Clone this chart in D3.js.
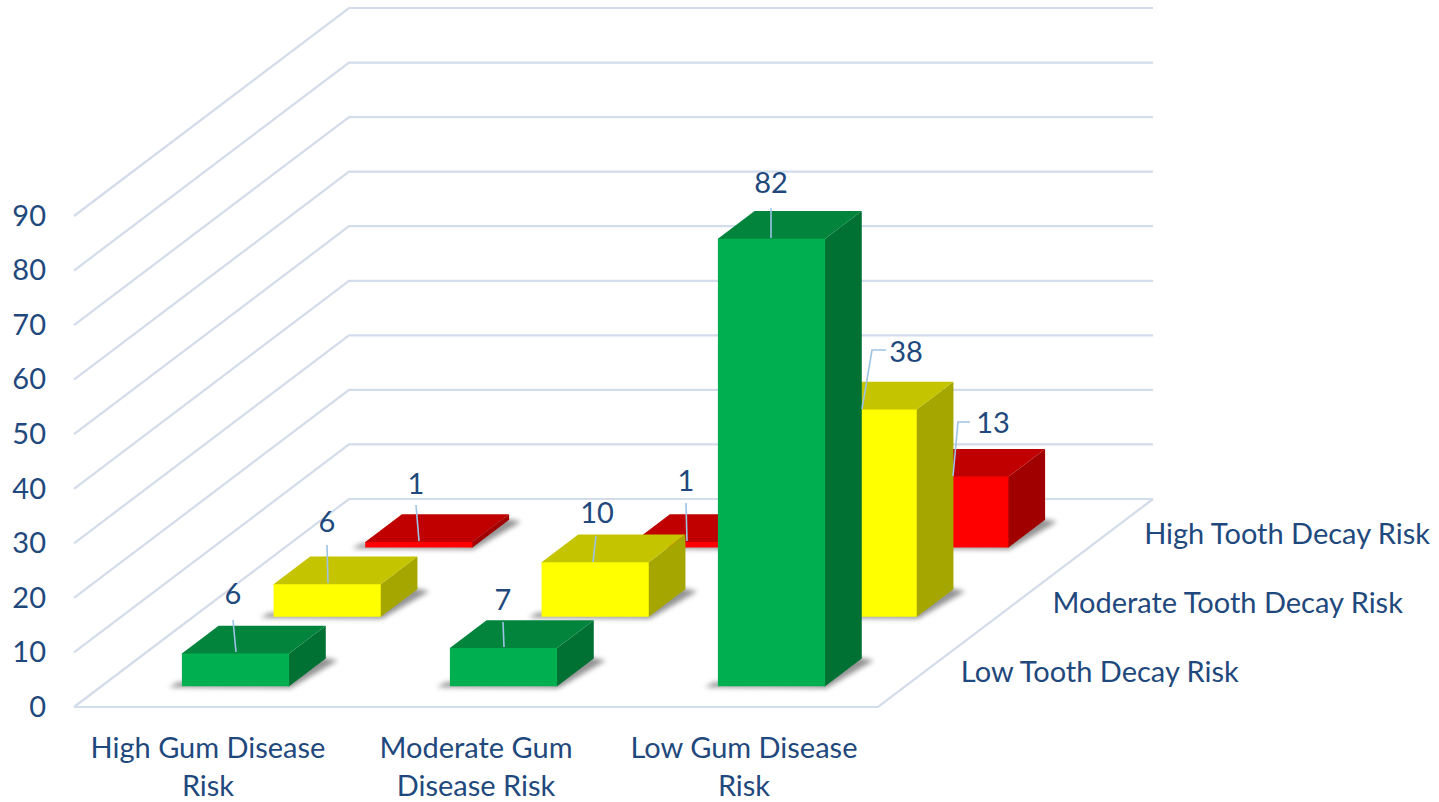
<!DOCTYPE html>
<html>
<head>
<meta charset="utf-8">
<script src="https://cdn.jsdelivr.net/npm/d3@7/dist/d3.min.js"></script>
<style>
  html, body { margin: 0; padding: 0; background: #fff; }
  svg { display: block; }
  text { font-family: Lato, "Open Sans", sans-serif; fill: #1f497d; }
</style>
</head>
<body>
<svg id="chart" width="1439" height="802"></svg>
<script>
// Survey counts: tooth decay risk (rows, front to back) against gum disease risk (columns)
const gumCategories = ["High Gum Disease Risk", "Moderate Gum Disease Risk", "Low Gum Disease Risk"];
const gumLabelLines = [["High Gum Disease", "Risk"], ["Moderate Gum", "Disease Risk"], ["Low Gum Disease", "Risk"]];
const decaySeries = ["Low Tooth Decay Risk", "Moderate Tooth Decay Risk", "High Tooth Decay Risk"];
const lowDecayValues = [6, 7, 82];
const moderateDecayValues = [6, 10, 38];
const highDecayValues = [1, 1, 13];
const valueTicks = [0, 10, 20, 30, 40, 50, 60, 70, 80, 90];

const seriesValues = [lowDecayValues, moderateDecayValues, highDecayValues];

// Face colours per row: front, top, side
const faceColours = [
  { front: "#00b050", top: "#02843d", side: "#007133" },
  { front: "#ffff00", top: "#c4c400", side: "#a6a600" },
  { front: "#ff0000", top: "#c00000", side: "#a00000" }
];

// Oblique projection of the floor: depth moves points up and to the right
const left = 74, right = 878, baseY = 707, depthLift = 208, depthRun = 275;
const run = lift => lift * depthRun / depthLift;
const fontSize = "29px";

const x = d3.scaleBand().domain(gumCategories).range([left, right]).paddingInner(0.6).paddingOuter(0.3);
const depth = d3.scaleBand().domain(decaySeries).range([0, depthLift]).paddingInner(0.6).paddingOuter(0.3);
const y = d3.scaleLinear().domain([0, 90]).range([baseY, 216]);

const svg = d3.select("#chart");
const defs = svg.append("defs");
defs.append("filter").attr("id", "soft").attr("x", "-20%").attr("y", "-40%").attr("width", "140%").attr("height", "180%")
  .append("feGaussianBlur").attr("stdDeviation", 2.8);

const gridColour = "#d3dcea";

// Walls: diagonal side gridlines and horizontal back gridlines for every tick
const grid = svg.append("g").attr("fill", "none").attr("stroke", gridColour).attr("stroke-width", 2.2);
grid.selectAll("path.wall").data(valueTicks).join("path").attr("class", "wall")
  .attr("d", v => d3.line()([
    [left, y(v)],
    [left + depthRun, y(v) - depthLift],
    [right + depthRun, y(v) - depthLift]
  ]));

// Front and right edges of the floor
grid.append("path").attr("d", d3.line()([
  [left, baseY], [right, baseY], [right + depthRun, baseY - depthLift]
]));

// Value axis: tick text only, the gridlines above carry the ticks
const yAxis = svg.append("g").attr("transform", "translate(46,0)")
  .call(d3.axisLeft(y).tickValues(valueTicks).tickSize(0).tickPadding(0));
yAxis.select(".domain").remove();
yAxis.selectAll("text").style("font-size", fontSize).style("font-family", "Lato").style("fill", "#1f497d").attr("dy", "0.32em");

// Gum disease category labels, two lines each
svg.append("g").selectAll("text").data(gumCategories).join("text")
  .attr("text-anchor", "middle")
  .style("font-size", fontSize)
  .attr("y", 757.5)
  .each(function (d, i) {
    d3.select(this).selectAll("tspan").data(gumLabelLines[i]).join("tspan")
      .attr("x", x(d) + x.bandwidth() / 2)
      .attr("dy", (t, j) => j ? 38.5 : 0)
      .text(t => t);
  });

// Tooth decay row labels, stepping along the floor's right edge
svg.append("g").selectAll("text").data(decaySeries).join("text")
  .style("font-size", fontSize)
  .attr("x", d => right + run(depth(d) + depth.bandwidth() / 2) + 37)
  .attr("y", d => baseY - depth(d) - depth.bandwidth() / 2 + 10)
  .text(d => d);

// Bars are painted back row first so nearer ones overlap them
const bars = [];
decaySeries.forEach((s, r) => gumCategories.forEach((c, k) => {
  bars.push({ s, c, r, k, value: seriesValues[r][k] });
}));
bars.sort((a, b) => b.r - a.r || a.k - b.k);

const barGroups = svg.append("g").selectAll("g").data(bars).join("g");

barGroups.each(function (d) {
  const g = d3.select(this);
  const lift = depth(d.s);
  const x0 = x(d.c) + run(lift);
  const x1 = x0 + x.bandwidth();
  const base = baseY - lift;
  const top = base - (baseY - y(d.value));
  const dy = depth.bandwidth();
  const dx = run(dy);
  const line = d3.line();
  const col = faceColours[d.r];

  // Soft shadow cast on the floor around the foot of the bar
  g.append("path").attr("filter", "url(#soft)").attr("fill", "#000").attr("fill-opacity", 0.42)
    .attr("d", line([
      [x0 - 13, base + 1], [x1 + 1, base + 2], [x1 + dx + 12, base - dy + 2],
      [x1 + dx - 8, base - dy - 2], [x1 - 8, base - 4], [x0 - 4, base - 4]
    ]) + "Z");

  // Side and top faces run a pixel under the front face to keep the joins closed
  g.append("path").attr("fill", col.side)
    .attr("d", line([[x1 - 1, base], [x1, base], [x1 + dx, base - dy], [x1 + dx, top - dy], [x1, top], [x1 - 1, top]]) + "Z");
  g.append("path").attr("fill", col.top)
    .attr("d", line([[x0, top + 1], [x0, top], [x0 + dx, top - dy], [x1 + dx, top - dy], [x1, top], [x1, top + 1]]) + "Z");
  g.append("path").attr("fill", col.front)
    .attr("d", line([[x0, base], [x1, base], [x1, top], [x0, top]]) + "Z");
});

// Value label centres and leader lines, keyed by column and row
const labelCentres = {
  "0-0": [233, 594], "0-1": [327, 522], "0-2": [416, 484],
  "1-0": [503, 600], "1-1": [597, 513], "1-2": [686, 481],
  "2-0": [771, 183], "2-1": [906, 352], "2-2": [993, 423]
};
const leaderPaths = {
  "0-0": [[233, 620], [236, 652]], "0-1": [[327, 545], [328, 583]], "0-2": [[416, 505], [419, 541]],
  "1-0": [[503, 622], [504, 647]], "1-1": [[596, 536], [593, 562]], "1-2": [[686, 503], [687, 541]],
  "2-0": [[771, 208], [771, 238]], "2-1": [[862, 409], [872, 350], [886, 350]], "2-2": [[953, 476], [958, 422], [970, 422]]
};

const annotations = svg.append("g");
bars.forEach(d => {
  const key = d.k + "-" + d.r;
  const [cx, cy] = labelCentres[key];
  annotations.append("path").attr("fill", "none").attr("stroke", "#9dc3e6").attr("stroke-width", 1.6)
    .attr("d", d3.line()(leaderPaths[key]));
  annotations.append("text").attr("text-anchor", "middle").style("font-size", fontSize)
    .attr("x", cx).attr("y", cy + 10).text(d.value);
});
</script>
</body>
</html>
